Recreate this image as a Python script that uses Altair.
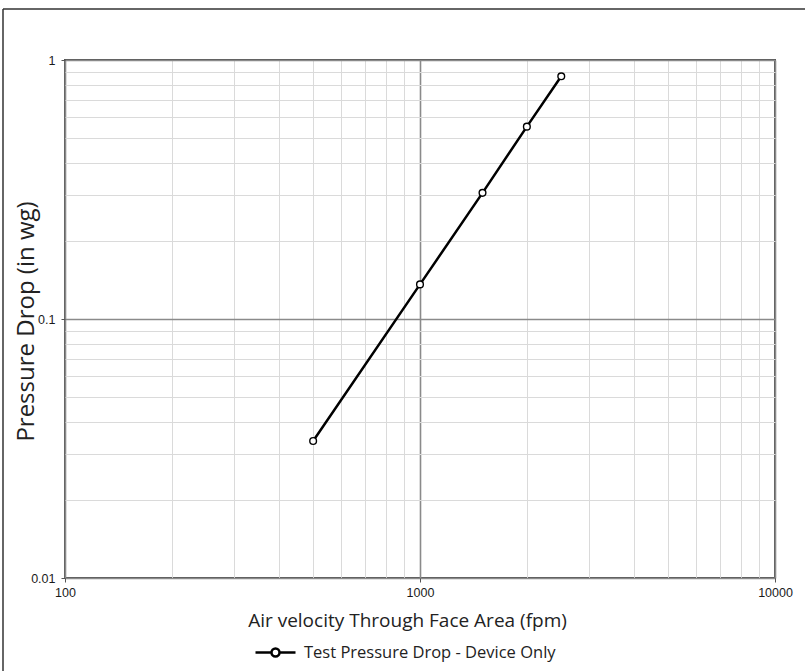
import altair as alt
import pandas as pd

# data
velocity = [500, 1000, 1500, 2000, 2500]
pressure = [0.0338, 0.136, 0.307, 0.553, 0.865]
series_name = "Test Pressure Drop - Device Only"

x_ticks = [100, 200, 300, 400, 500, 600, 700, 800, 900,
           1000, 2000, 3000, 4000, 5000, 6000, 7000, 8000, 9000, 10000]
y_ticks = [0.01, 0.02, 0.03, 0.04, 0.05, 0.06, 0.07, 0.08, 0.09,
           0.1, 0.2, 0.3, 0.4, 0.5, 0.6, 0.7, 0.8, 0.9, 1]

df = pd.DataFrame({"v": velocity, "p": pressure, "s": [series_name] * len(velocity)})

x_major = "datum.value == 100 || datum.value == 1000 || datum.value == 10000"
y_major = "datum.value == 0.01 || datum.value == 0.1 || datum.value == 1"

W, H = 710, 518


def axis(major, ticks, title, **kw):
    return alt.Axis(
        values=ticks,
        title=title,
        grid=True,
        gridColor={"condition": {"test": major, "value": "#8a8a8a"}, "value": "#dadada"},
        gridWidth={"condition": {"test": major, "value": 1.6}, "value": 1},
        tickSize={"condition": {"test": major, "value": 4}, "value": 0},
        tickColor="#555",
        labelExpr=f"({major}) ? format(datum.value, '~g') : ''",
        labelFont="Liberation Sans",
        labelFontSize=12.5,
        labelColor="#1a1a1a",
        labelOverlap=False,
        labelBound=False,
        labelFlush=False,
        domain=False,
        titleFont="Open Sans",
        titleFontWeight="normal",
        titleColor="#222",
        **kw,
    )


x_enc = alt.X(
    "v:Q",
    scale=alt.Scale(type="log", domain=[100, 10000], nice=False),
    axis=axis(x_major, x_ticks, "Air velocity Through Face Area (fpm)", labelPadding=4,
              titleFontSize=19, titleX=342, titleY=33),
)
y_enc = alt.Y(
    "p:Q",
    scale=alt.Scale(type="log", domain=[0.01, 1], nice=False),
    axis=axis(y_major, y_ticks, "Pressure Drop (in wg)", labelPadding=6,
              titleFontSize=24, titleX=-39, titleY=H / 2 + 2, titleBaseline="middle"),
)

legend_symbol = "M-2,0H-0.4M0.4,0H2M0.4,0A0.4,0.4 0 1,1 -0.4,0A0.4,0.4 0 1,1 0.4,0Z"

line = alt.Chart(df).mark_line(strokeWidth=2.5, color="black").encode(
    x=x_enc, y=y_enc,
    color=alt.Color("s:N", scale=alt.Scale(range=["black"]),
                    legend=alt.Legend(
                        title=None, orient="none", legendX=199, legendY=581,
                        symbolType=legend_symbol, symbolSize=400,
                        symbolFillColor="white", symbolStrokeColor="black",
                        symbolStrokeWidth=2.5, symbolOpacity=1, labelOffset=17,
                        labelLimit=500,
                        labelFont="Open Sans", labelFontSize=16.5, labelColor="#222",
                        padding=0)),
)
points = alt.Chart(df).mark_point(
    shape="circle", filled=True, fill="white", stroke="black", strokeWidth=1.4,
    size=45, opacity=1
).encode(x="v:Q", y="p:Q")

frame_df = pd.DataFrame({"k": [0]})
frame_top = alt.Chart(frame_df).mark_rule(color="#333", strokeWidth=1.5).encode(
    x=alt.value(-62), x2=alt.value(760), y=alt.value(-51))
frame_left = alt.Chart(frame_df).mark_rule(color="#333", strokeWidth=1.5).encode(
    x=alt.value(-62), y=alt.value(-51), y2=alt.value(640))

chart = alt.layer(line, points, frame_top, frame_left).properties(
    width=W, height=H,
    autosize=alt.AutoSizeParams(type="none"),
    padding={"left": 65, "top": 60, "right": 30, "bottom": 93},
    background="white",
).configure_view(stroke="#555", strokeWidth=2)

chart.save("out.html", embed_options={"renderer": "svg", "actions": False})
